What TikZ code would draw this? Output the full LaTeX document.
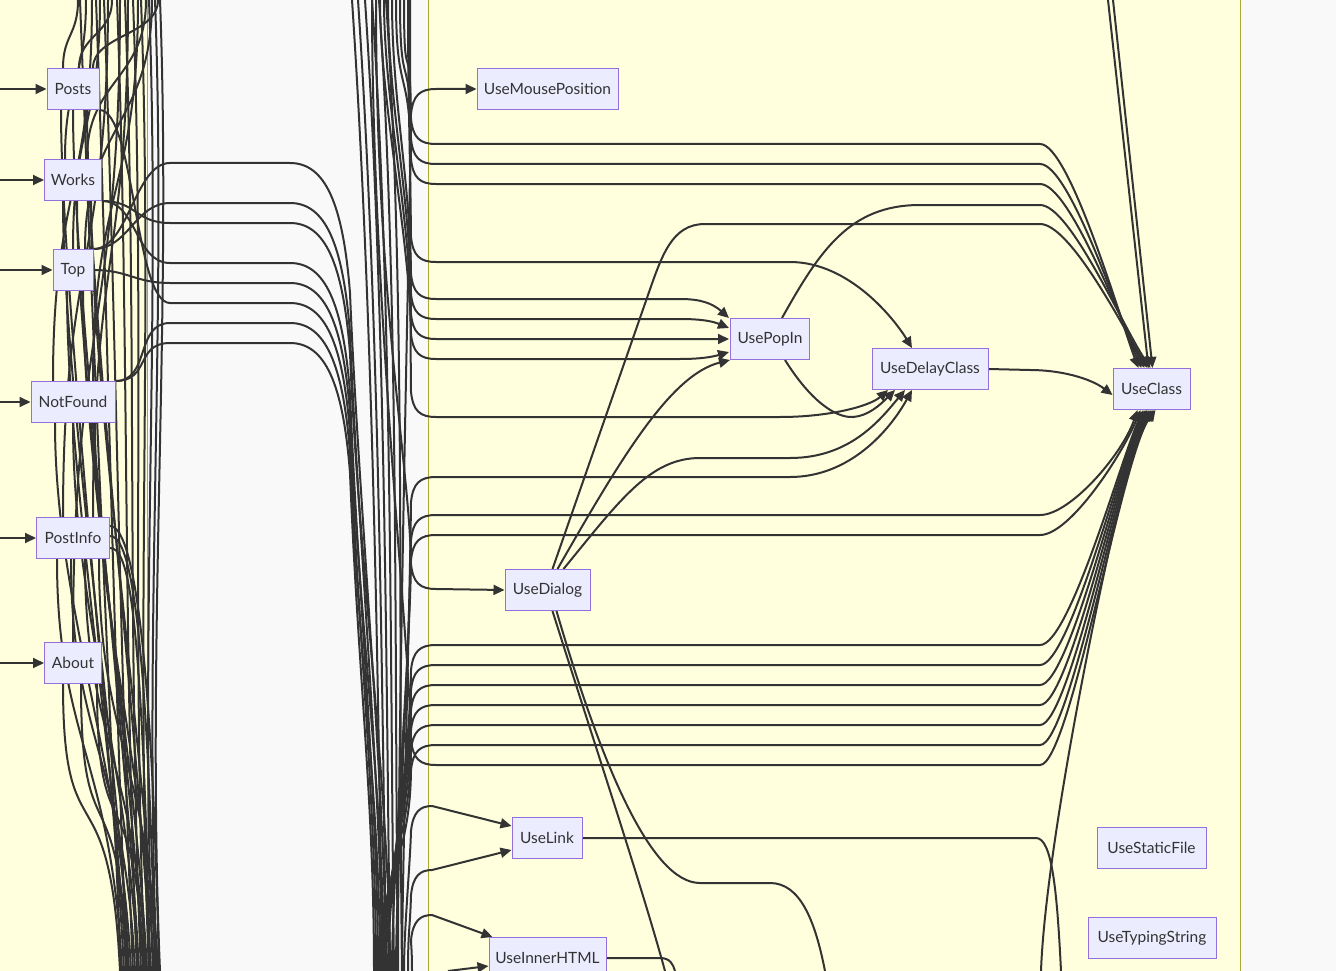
\documentclass[tikz,border=0pt]{standalone}
\usepackage{fontspec}
\setmainfont{Lato}
\usetikzlibrary{arrows.meta,calc}

\definecolor{ink}{HTML}{333333}
\definecolor{page}{HTML}{F9F9F9}
\definecolor{groupfill}{HTML}{FFFFDE}
\definecolor{groupline}{HTML}{AAAA33}
\definecolor{boxfill}{HTML}{ECECFF}
\definecolor{boxline}{HTML}{9370DB}

\pgfdeclarelayer{back}
\pgfdeclarelayer{wires}
\pgfsetlayers{back,wires,main}

\tikzset{
  hook/.style={draw=boxline, fill=boxfill, line width=1pt, minimum height=41pt,
    inner sep=0pt, text=ink, font=\fontsize{15.5}{18}\selectfont},
  group/.style={fill=groupfill, draw=groupline, line width=1pt},
  wire/.style={draw=ink, line width=2pt},
  into/.style={wire, -{Triangle[length=11pt,width=10pt]}},
}

\begin{document}
\begin{tikzpicture}[x=1pt,y=-1pt]
\useasboundingbox (0,0) rectangle (1336,971);

\begin{pgfonlayer}{back}
  \fill[page] (0,0) rectangle (1336,971);
  \filldraw[group] (-10,-10) rectangle (147,981);
  \filldraw[group] (428,-10) rectangle (1240,981);
\end{pgfonlayer}

% pages
\node[hook, minimum width=52pt] (Posts) at (73,89) {Posts};
\node[hook, minimum width=57pt] (Works) at (73,180) {Works};
\node[hook, minimum width=40pt] (Top) at (73,270) {Top};
\node[hook, minimum width=84pt] (NotFound) at (73,402) {NotFound};
\node[hook, minimum width=73pt] (PostInfo) at (73,538) {PostInfo};
\node[hook, minimum width=57pt] (About) at (73,663) {About};

% hooks
\node[hook, minimum width=141pt] (UseMousePosition) at (547.5,89) {UseMousePosition};
\node[hook, minimum width=79pt] (UsePopIn) at (770,339) {UsePopIn};
\node[hook, minimum width=116pt] (UseDelayClass) at (930,369) {UseDelayClass};
\node[hook, minimum width=77pt] (UseClass) at (1151.5,389) {UseClass};
\node[hook, minimum width=85pt] (UseDialog) at (547.5,590) {UseDialog};
\node[hook, minimum width=70pt] (UseLink) at (547,838) {UseLink};
\node[hook, minimum width=117pt] (UseInnerHTML) at (547.5,958) {UseInnerHTML};
\node[hook, minimum width=109pt] (UseStaticFile) at (1151.5,848) {UseStaticFile};
\node[hook, minimum width=128pt] (UseTypingString) at (1152,938) {UseTypingString};

\begin{pgfonlayer}{wires}
% arrows coming into the pages
\foreach \n in {Posts,Works,Top,NotFound,PostInfo,About}{
  \coordinate (in\n) at (0,0 |- \n.west);
  \draw[into] (in\n) -- (\n.west);
}

% left bundle
\foreach \a/\b [count=\i] in {80/121, 96/127, 104/133, 117/137, 125/141, 133/145, 141/149, 149/153, 155/157, 160/160}{
  \coordinate (lt\i) at (\a,0);
  \coordinate (lb\i) at (\b,971);
  \draw[wire] (lt\i) .. controls (\a+12,320) and (\b-14,640) .. (lb\i);
}
\foreach \n/\dx/\y/\b [count=\i] in {Posts/-12/110/124, Posts/0/110/139, Posts/14/110/151, Works/-10/200/129, Works/4/200/143, Works/18/200/156, Top/-6/291/126, Top/10/291/147, NotFound/-18/423/131, NotFound/0/423/138, NotFound/22/423/154, PostInfo/-16/559/122, PostInfo/-2/559/135, PostInfo/12/559/146, PostInfo/26/559/158, About/-10/684/120, About/8/684/128, About/24/684/144}{
  \coordinate (nd\i) at (\b,971);
  \draw[wire] ([xshift=\dx pt]\n.south) .. controls (73+\dx,\y+180) and (\b-10,760) .. (nd\i);
}
\foreach \n/\dx/\y/\a [count=\i] in {Posts/-10/70/78, Posts/6/70/112, Posts/20/70/158, Works/-8/160/86, Works/14/160/146, Top/0/250/100, Top/12/250/152, NotFound/-20/382/92, NotFound/20/382/138, PostInfo/-10/518/108, PostInfo/20/518/128, About/0/643/120}{
  \coordinate (nu\i) at (\a,0);
  \draw[wire] (nu\i) .. controls (\a,\y/2) and (73+\dx,\y/2) .. ([xshift=\dx pt]\n.north);
}
\foreach \dy/\b [count=\i] in {-10/150, 2/155, 12/159}{
  \coordinate (pe\i) at (\b,971);
  \draw[wire] ([yshift=\dy pt]PostInfo.east) .. controls (128,538-\dy) and (\b-8,600) .. (pe\i);
}

% across the gap
\foreach \n/\an/\y/\b [count=\i] in {Top/north east/163/386, Top/north east/203/382, Works/south east/223/390, Works/south east/263/378, Top/east/283/384, Posts/south east/303/376, NotFound/north east/323/380, NotFound/north east/343/374}{
  \coordinate (gb\i) at (\b,971);
  \draw[wire] (\n.\an) .. controls +(35,0) and (135,\y) .. (170,\y) -- (290,\y)
    .. controls (325,\y) and (343,\y+40) .. (350,\y+130)
    .. controls (358,\y+330) and (\b,800) .. (gb\i);
}

% right bundle
\foreach \a/\b [count=\i] in {352/382, 358/386, 365/390, 372/394, 379/398, 386/402}{
  \coordinate (rt\i) at (\a,0);
  \coordinate (rb\i) at (\b,971);
  \draw[wire] (rt\i) .. controls (\a+20,300) and (\b-4,650) .. (rb\i);
}

% into UseClass from above
\foreach \a/\y/\dx [count=\i] in {404/144/-13, 400/164/-10, 396/184/-7}{
  \coordinate (ca\i) at (\a,0);
  \draw[into] (ca\i) .. controls (\a,100) and (410,\y-120) .. (411,\y-25)
    .. controls (413,\y-6) and (420,\y) .. (436,\y) -- (1040,\y)
    .. controls (1070,\y) and (1122,325) .. ([xshift=\dx pt]UseClass.north);
}
\coordinate (ca4) at (372,0);
\draw[into] (ca4) .. controls (372,300) and (410,645) .. (411,740)
  .. controls (413,759) and (420,765) .. (436,765) -- (1040,765)
  .. controls (1070,765) and (1122,455) .. ([xshift=4pt]UseClass.south);

% into UseClass from below
\foreach \b/\y/\dx [count=\i] in {396/515/-14, 392/535/-11, 388/645/-8, 386/665/-6, 384/685/-4, 382/705/-2, 380/725/0, 378/745/2}{
  \coordinate (cb\i) at (\b,971);
  \draw[into] (cb\i) .. controls (\b,880) and (410,\y+120) .. (411,\y+25)
    .. controls (413,\y+6) and (420,\y) .. (436,\y) -- (1040,\y)
    .. controls (1070,\y) and (1122,455) .. ([xshift=\dx pt]UseClass.south);
}
\coordinate (cu) at (1041,971);
\draw[into] (cu) .. controls (1046,830) and (1120,480) .. ([xshift=-5pt]UseClass.south);
\coordinate (tr1) at (1108,0);
\coordinate (tr2) at (1113,0);
\draw[into] (tr1) -- ([xshift=-3pt]UseClass.north);
\draw[into] (tr2) -- ([xshift=1pt]UseClass.north);

% into UsePopIn
\foreach \a/\y/\dy/\c [count=\i] in {392/299/-21/303, 388/319/-11/321, 384/339/0/339, 380/359/13/357}{
  \coordinate (pa\i) at (\a,0);
  \draw[into] (pa\i) .. controls (\a,100) and (410,\y-120) .. (411,\y-25)
    .. controls (413,\y-6) and (420,\y) .. (436,\y) -- (680,\y)
    .. controls (700,\y) and (712,\c) .. ($(UsePopIn.west)+(-1,\dy)$);
}

% into UseDelayClass
\coordinate (da1) at (408,0);
\draw[into] (da1) .. controls (408,100) and (410,142) .. (411,237)
  .. controls (413,256) and (420,262) .. (436,262) -- (790,262)
  .. controls (850,262) and (895,320) .. ([xshift=-18pt]UseDelayClass.north);
\coordinate (da2) at (410,0);
\draw[into] (da2) .. controls (410,100) and (410,297) .. (411,392)
  .. controls (413,411) and (420,417) .. (436,417) -- (780,417)
  .. controls (830,417) and (870,406) .. ([xshift=-42pt]UseDelayClass.south);
\coordinate (db1) at (402,971);
\draw[into] (db1) .. controls (402,880) and (410,597) .. (411,502)
  .. controls (413,483) and (420,477) .. (436,477) -- (790,477)
  .. controls (850,477) and (890,430) .. ([xshift=-18pt]UseDelayClass.south);

% into UseMousePosition
\coordinate (mb) at (398,971);
\draw[into] (mb) .. controls (398,700) and (410,209) .. (411,114)
  .. controls (413,95) and (420,89) .. (436,89) -- (UseMousePosition.west);

% into UseDialog
\coordinate (ga) at (376,0);
\draw[into] (ga) .. controls (376,300) and (410,469) .. (411,564)
  .. controls (413,583) and (420,589) .. (436,589) -- (UseDialog.west);

% into UseLink and UseInnerHTML
\foreach \b/\y/\dy [count=\i] in {404/806/-12, 408/870/12}{
  \coordinate (lk\i) at (\b,971);
  \draw[into] (lk\i) .. controls (\b,930) and (410,\y+60) .. (411,\y+25)
    .. controls (413,\y+6) and (420,\y) .. (432,\y) -- ($(UseLink.west)+(0,\dy)$);
}
\coordinate (ih1) at (412,971);
\draw[into] (ih1) .. controls (412,950) and (411,945) .. (411,940)
  .. controls (413,921) and (420,915) .. (432,915) -- ($(UseInnerHTML.north west)+(4,0)$);
\coordinate (ih2) at (448,971);
\draw[into] (ih2) -- ($(UseInnerHTML.west)+(0,8)$);

% between hooks
\draw[into] ([xshift=5pt]UseDialog.north) -- (648,295)
  .. controls (662,255) and (672,224) .. (705,224) -- (1040,224)
  .. controls (1070,224) and (1122,325) .. ([xshift=-4pt]UseClass.north);
\draw[into] ([xshift=10pt]UseDialog.north) .. controls (620,460) and (670,375) .. (UsePopIn.south west);
\draw[into] ([xshift=16pt]UseDialog.north) .. controls (620,500) and (650,458) .. (700,458) -- (790,458)
  .. controls (850,458) and (880,420) .. ([xshift=-25pt]UseDelayClass.south);
\draw[into] ([xshift=12pt]UsePopIn.north) .. controls (820,250) and (850,205) .. (920,205) -- (1040,205)
  .. controls (1070,205) and (1122,325) .. ([xshift=-1pt]UseClass.north);
\draw[into] ([xshift=15pt]UsePopIn.south) .. controls (810,400) and (835,418) .. (853,417)
  .. controls (868,416) and (880,405) .. ([xshift=-35pt]UseDelayClass.south);
\draw[into] (UseDelayClass.east) -- (1030,370) .. controls (1060,370) and (1090,378) .. ([yshift=-6pt]UseClass.west);

% leaving the hooks
\coordinate (dd1) at (665,971);
\draw[wire] ([xshift=5pt]UseDialog.south) .. controls (590,730) and (640,880) .. (dd1);
\coordinate (dd2) at (825,971);
\draw[wire] ([xshift=9pt]UseDialog.south) .. controls (600,760) and (650,883) .. (700,883) -- (770,883)
  .. controls (800,883) and (815,920) .. (dd2);
\coordinate (ul) at (1061,971);
\draw[wire] (UseLink.east) -- (1036,838) .. controls (1052,838) and (1057,890) .. (ul);
\coordinate (uh) at (675,971);
\draw[wire] (UseInnerHTML.east) -- (660,958) .. controls (670,958) and (673,964) .. (uh);
\end{pgfonlayer}
\end{tikzpicture}
\end{document}
